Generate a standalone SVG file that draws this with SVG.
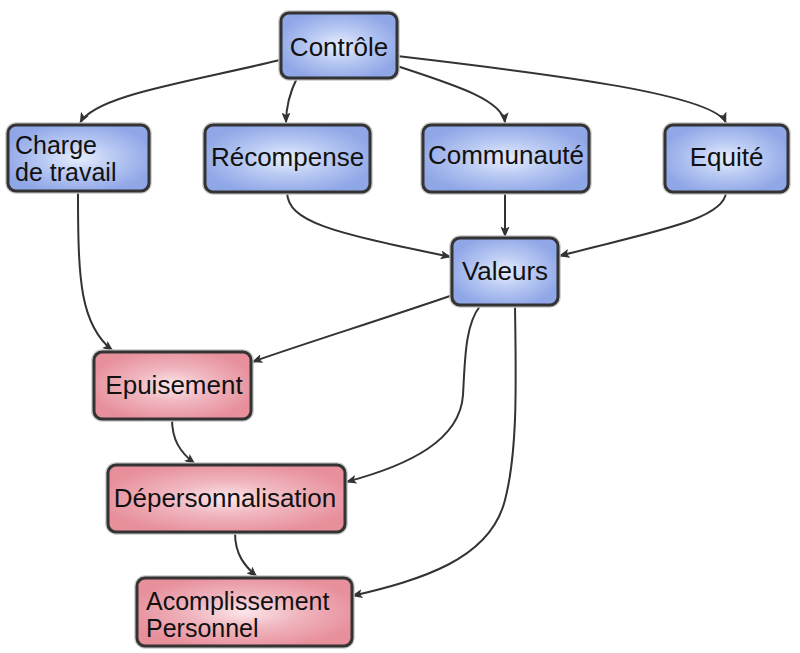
<svg xmlns="http://www.w3.org/2000/svg" width="800" height="653" viewBox="0 0 800 653">
  <defs>
    <radialGradient id="gBlue" cx="50%" cy="50%" r="55%">
      <stop offset="0%" stop-color="#E6EDFD"/>
      <stop offset="45%" stop-color="#BACAF3"/>
      <stop offset="100%" stop-color="#8FA6E7"/>
    </radialGradient>
    <radialGradient id="gPink" cx="50%" cy="50%" r="55%">
      <stop offset="0%" stop-color="#FCE6EA"/>
      <stop offset="45%" stop-color="#F0B6BF"/>
      <stop offset="100%" stop-color="#E78F9B"/>
    </radialGradient>
    <marker id="arr" viewBox="0 0 11 9" refX="10.5" refY="4.5" markerWidth="11" markerHeight="9" markerUnits="userSpaceOnUse" orient="auto">
      <path d="M0,0 L11,4.5 L0,9 L2.5,4.5 Z" fill="#333"/>
    </marker>
    <style>
      .halo { fill: none; stroke: #C8C8C8; stroke-width: 5.5; }
      .blue { fill: url(#gBlue); stroke: #333; stroke-width: 3; }
      .pink { fill: url(#gPink); stroke: #333; stroke-width: 3; }
      .lbl { font-family: "Liberation Sans", Arial, sans-serif; font-size: 26px; fill: #111; }
      .two { font-size: 25px; }
      .c { text-anchor: middle; }
      .edge { fill: none; stroke: #333; stroke-width: 2; marker-end: url(#arr); }
    </style>
  </defs>

  <g id="connectors">
    <path class="edge" d="M280,60 C190,82 95,95 80,123"/>
    <path class="edge" d="M297,78 C290,92 286,105 286,123"/>
    <path class="edge" d="M397,66 C455,85 503,100 505,123"/>
    <path class="edge" d="M397,56 C560,75 715,95 726,123"/>
    <path class="edge" d="M78,192 C78,280 80,325 113,351"/>
    <path class="edge" d="M287,192 C288,222 330,232 451,257"/>
    <path class="edge" d="M505,192 L505,237"/>
    <path class="edge" d="M726,192 C725,220 650,232 559,256"/>
    <path class="edge" d="M453,295 C380,320 300,345 252,362"/>
    <path class="edge" d="M480,306 C465,325 465,360 463,395 C460,440 410,465 346,482"/>
    <path class="edge" d="M515,306 C516,380 518,450 505,500 C490,560 420,580 352,596"/>
    <path class="edge" d="M172,419 C172,440 180,452 195,464"/>
    <path class="edge" d="M235,533 C235,555 245,566 257,577"/>
  </g>

  <g id="controle">
    <rect class="halo" x="281" y="13" width="116" height="65" rx="8"/>
    <rect class="blue" x="281" y="13" width="116" height="65" rx="8"/>
    <text class="lbl c" x="339" y="56">Contrôle</text>
  </g>
  <g id="charge">
    <rect class="halo" x="8" y="125" width="141" height="66" rx="8"/>
    <rect class="blue" x="8" y="125" width="141" height="66" rx="8"/>
    <text class="lbl two" x="15" y="154">Charge</text>
    <text class="lbl two" x="15" y="181">de travail</text>
  </g>
  <g id="recompense">
    <rect class="halo" x="205" y="125" width="165" height="67" rx="8"/>
    <rect class="blue" x="205" y="125" width="165" height="67" rx="8"/>
    <text class="lbl c" x="287.5" y="166">Récompense</text>
  </g>
  <g id="communaute">
    <rect class="halo" x="423" y="125" width="166" height="67" rx="8"/>
    <rect class="blue" x="423" y="125" width="166" height="67" rx="8"/>
    <text class="lbl c" x="506" y="164">Communauté</text>
  </g>
  <g id="equite">
    <rect class="halo" x="665" y="125" width="123" height="67" rx="8"/>
    <rect class="blue" x="665" y="125" width="123" height="67" rx="8"/>
    <text class="lbl c" x="726.5" y="166">Equité</text>
  </g>
  <g id="valeurs">
    <rect class="halo" x="452" y="238" width="106" height="67" rx="8"/>
    <rect class="blue" x="452" y="238" width="106" height="67" rx="8"/>
    <text class="lbl c" x="505" y="280">Valeurs</text>
  </g>
  <g id="epuisement">
    <rect class="halo" x="94" y="352" width="157" height="67" rx="8"/>
    <rect class="pink" x="94" y="352" width="157" height="67" rx="8"/>
    <text class="lbl c" x="174" y="394">Epuisement</text>
  </g>
  <g id="depersonnalisation">
    <rect class="halo" x="108" y="465" width="237" height="67" rx="8"/>
    <rect class="pink" x="108" y="465" width="237" height="67" rx="8"/>
    <text class="lbl c" x="225" y="507">Dépersonnalisation</text>
  </g>
  <g id="accomplissement">
    <rect class="halo" x="137" y="578" width="215" height="68" rx="8"/>
    <rect class="pink" x="137" y="578" width="215" height="68" rx="8"/>
    <text class="lbl two" x="146" y="610">Acomplissement</text>
    <text class="lbl two" x="146" y="637">Personnel</text>
  </g>
</svg>
